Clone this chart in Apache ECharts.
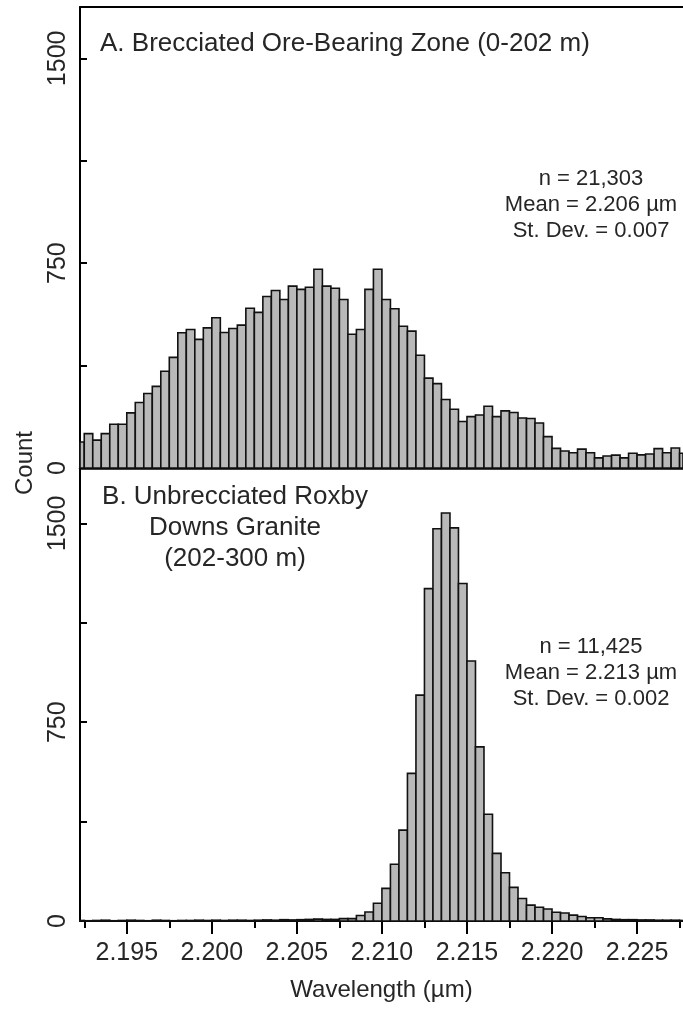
<!DOCTYPE html>
<html>
<head>
<meta charset="utf-8">
<script src="https://cdn.jsdelivr.net/npm/echarts@6/dist/echarts.min.js"></script>
<style>
html,body{margin:0;padding:0;background:#fff;}
#chart{width:683px;height:1018px;}
</style>
</head>
<body>
<div id="chart"></div>
<script>
// Bin centres (wavelength, µm), bin width 0.0005
const binCenters = [
  2.19225, 2.19275, 2.19325, 2.19375, 2.19425, 2.19475, 2.19525, 2.19575, 2.19625, 2.19675,
  2.19725, 2.19775, 2.19825, 2.19875, 2.19925, 2.19975, 2.20025, 2.20075, 2.20125, 2.20175,
  2.20225, 2.20275, 2.20325, 2.20375, 2.20425, 2.20475, 2.20525, 2.20575, 2.20625, 2.20675,
  2.20725, 2.20775, 2.20825, 2.20875, 2.20925, 2.20975, 2.21025, 2.21075, 2.21125, 2.21175,
  2.21225, 2.21275, 2.21325, 2.21375, 2.21425, 2.21475, 2.21525, 2.21575, 2.21625, 2.21675,
  2.21725, 2.21775, 2.21825, 2.21875, 2.21925, 2.21975, 2.22025, 2.22075, 2.22125, 2.22175,
  2.22225, 2.22275, 2.22325, 2.22375, 2.22425, 2.22475, 2.22525, 2.22575, 2.22625, 2.22675,
  2.22725, 2.22775
];
const binWidth = 0.0005;

// A. Brecciated ore-bearing zone counts
const countsA = [
  95,
  126, 102, 126, 160, 160, 202, 240, 273, 299, 354,
  405, 495, 507, 471, 513, 550, 496, 511, 523, 585,
  570, 628, 650, 617, 666, 654, 662, 728, 666, 658,
  617, 490, 507, 654, 728, 617, 583, 519, 501, 413,
  329, 309, 251, 215, 170, 188, 194, 226, 188, 209,
  203, 183, 181, 165, 115, 72, 62, 56, 69, 56,
  37, 44, 47, 37, 54, 48, 51, 71, 56, 73,
  54
];

// B. Unbrecciated Roxby Downs Granite counts
const countsB = [
  2, 1, 2, 3, 1, 2, 3, 2, 1, 3,
  2, 1, 2, 2, 3, 2, 3, 2, 3, 3,
  2, 3, 4, 3, 5, 4, 5, 6, 7, 6,
  6, 9, 9, 21, 34, 67, 123, 214, 343, 557,
  852, 1254, 1480, 1539, 1483, 1273, 981, 657, 403, 255,
  182, 127, 85, 60, 52, 45, 33, 30, 22, 17,
  12, 12, 8, 6, 5, 5, 4, 4, 3, 3,
  3, 2
];

const xMajorTicks = [2.195, 2.200, 2.205, 2.210, 2.215, 2.220, 2.225];
const xMinorTicks = [2.1925, 2.1975, 2.2025, 2.2075, 2.2125, 2.2175, 2.2225, 2.2275];
const yTicks = [0, 375, 750, 1125, 1500];
const yLabels = [0, 750, 1500];

const statsA = ['n = 21,303', 'Mean = 2.206 µm', 'St. Dev. = 0.007'];
const statsB = ['n = 11,425', 'Mean = 2.213 µm', 'St. Dev. = 0.002'];
const titleA = 'A. Brecciated Ore-Bearing Zone (0-202 m)';
const titleB = ['B. Unbrecciated Roxby', 'Downs Granite', '(202-300 m)'];

const FONT = '"Liberation Sans", Arial, Helvetica, sans-serif';
const TXT = '#262626';

const chart = echarts.init(document.getElementById('chart'), null, {renderer: 'canvas'});

function renderBar(params, api) {
  const c = api.value(0), v = api.value(1);
  const p0 = api.coord([c - binWidth / 2, v]);
  const p1 = api.coord([c + binWidth / 2, 0]);
  const cs = params.coordSys;
  const rect = echarts.graphic.clipRectByRect(
    {x: p0[0], y: p0[1], width: p1[0] - p0[0], height: p1[1] - p0[1]},
    {x: cs.x, y: cs.y, width: cs.width, height: cs.height}
  );
  if (!rect) return;
  return {
    type: 'rect',
    shape: rect,
    style: {fill: '#b9b9b9', stroke: '#111', lineWidth: 1.6}
  };
}

const X_MIN = 2.19225, X_MAX = 2.2277;

const yAxisCommon = {
  type: 'value',
  min: 0,
  axisLine: {show: true, lineStyle: {color: '#000', width: 2}},
  axisTick: {show: true, inside: true, length: 7, customValues: yTicks, lineStyle: {color: '#000', width: 2}},
  axisLabel: {
    show: true, customValues: yLabels, rotate: 90, margin: 9,
    fontFamily: FONT, fontSize: 25, color: TXT,
    formatter: v => String(v)
  },
  splitLine: {show: false}
};

const option = {
  animation: false,
  backgroundColor: '#fff',
  grid: [
    {left: 80, right: 0, top: 7, height: 461},
    {left: 80, right: 0, top: 468, height: 453}
  ],
  xAxis: [
    { // A bottom
      type: 'value', gridIndex: 0, min: X_MIN, max: X_MAX, position: 'bottom',
      axisLine: {show: true, onZero: false, lineStyle: {color: '#000', width: 2.5}},
      axisTick: {show: false}, axisLabel: {show: false}, splitLine: {show: false}
    },
    { // A top frame
      type: 'value', gridIndex: 0, min: X_MIN, max: X_MAX, position: 'top',
      axisLine: {show: true, onZero: false, lineStyle: {color: '#000', width: 2}},
      axisTick: {show: false}, axisLabel: {show: false}, splitLine: {show: false}
    },
    { // B bottom, major ticks + labels
      type: 'value', gridIndex: 1, min: X_MIN, max: X_MAX, position: 'bottom',
      axisLine: {show: true, onZero: false, lineStyle: {color: '#000', width: 2}},
      axisTick: {show: true, length: 13, customValues: xMajorTicks, lineStyle: {color: '#000', width: 2}},
      axisLabel: {
        show: true, customValues: xMajorTicks, margin: 20,
        fontFamily: FONT, fontSize: 25, color: TXT,
        formatter: v => v.toFixed(3)
      },
      splitLine: {show: false},
      name: 'Wavelength (µm)', nameLocation: 'middle', nameGap: 57,
      nameTextStyle: {fontFamily: FONT, fontSize: 24, color: TXT}
    },
    { // B bottom, minor ticks
      type: 'value', gridIndex: 1, min: X_MIN, max: X_MAX, position: 'bottom',
      axisLine: {show: false},
      axisTick: {show: true, length: 7, customValues: xMinorTicks, lineStyle: {color: '#000', width: 2}},
      axisLabel: {show: false}, splitLine: {show: false}
    }
  ],
  yAxis: [
    Object.assign({}, yAxisCommon, {gridIndex: 0, max: 1688}),
    Object.assign({}, yAxisCommon, {gridIndex: 1, max: 1709})
  ],
  series: [
    {
      type: 'custom', xAxisIndex: 0, yAxisIndex: 0,
      renderItem: renderBar,
      data: binCenters.map((c, i) => [c, countsA[i]]),
      z: 1
    },
    {
      type: 'custom', xAxisIndex: 2, yAxisIndex: 1,
      renderItem: renderBar,
      data: binCenters.map((c, i) => [c, countsB[i]]),
      z: 1
    }
  ],
  graphic: [
    {type: 'text', left: 100, top: 31, style: {text: titleA, font: '26px ' + FONT, fill: TXT}},
    {type: 'text', x: 591, y: 205, style: {text: statsA.join('\n'), font: '22px ' + FONT, fill: TXT, align: 'center', verticalAlign: 'middle', lineHeight: 26}},
    {type: 'text', x: 235, y: 528, style: {text: titleB.join('\n'), font: '26px ' + FONT, fill: TXT, align: 'center', verticalAlign: 'middle', lineHeight: 31}},
    {type: 'text', x: 591, y: 673, style: {text: statsB.join('\n'), font: '22px ' + FONT, fill: TXT, align: 'center', verticalAlign: 'middle', lineHeight: 26}},
    {type: 'text', x: 25, y: 463, rotation: Math.PI / 2, style: {text: 'Count', font: '24px ' + FONT, fill: TXT, align: 'center', verticalAlign: 'middle'}}
  ]
};

chart.setOption(option);
</script>
</body>
</html>
